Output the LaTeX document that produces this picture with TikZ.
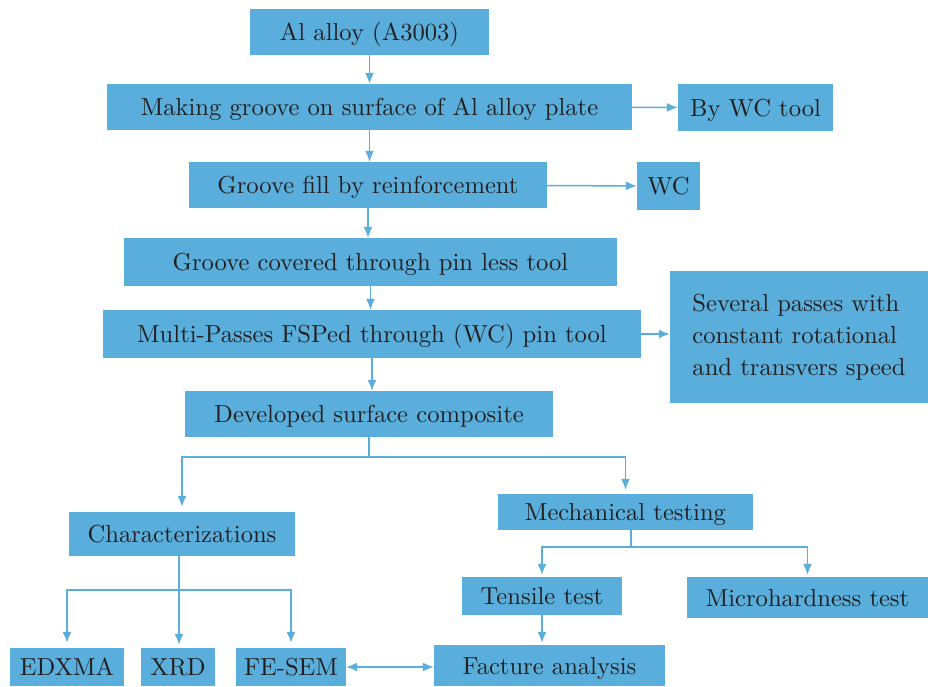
\documentclass[tikz,border=0pt]{standalone}
\usepackage{fontspec}
\newfontfamily\boxfont{lmroman10-regular.otf}
\usetikzlibrary{arrows.meta,positioning,calc}
\definecolor{boxblue}{HTML}{5AAEDB}
\definecolor{inkgray}{HTML}{231F20}
\tikzset{
  boxbase/.style={fill=boxblue,text=inkgray,inner sep=0pt,font=\boxfont\fontsize{24.6}{32}\selectfont},
  box/.style={boxbase,text height=18.5pt,text depth=1.2pt},
  flow/.style={draw=boxblue,line width=1.5pt,-{Latex[length=11pt,width=9pt]}},
  twoway/.style={draw=boxblue,line width=1.5pt,{Latex[length=11pt,width=9pt]}-{Latex[length=11pt,width=9pt]}},
  plain/.style={draw=boxblue,line width=1.5pt}
}

\begin{document}
\begin{tikzpicture}[x=1pt,y=-1pt]
      \useasboundingbox (0,0) rectangle (928,686);

      \node[box,minimum width=239pt,minimum height=46pt] (alloy) at (369.5,32) {Al alloy (A3003)};
      \node[box,minimum width=525pt,minimum height=46pt] (groove) at (369.5,107) {Making groove on surface of Al alloy plate};
      \node[box,minimum width=155pt,minimum height=47pt] (wctool) at (755.5,107.5) {By WC tool};
      \node[box,minimum width=358pt,minimum height=46pt] (fill) at (368,185) {Groove fill by reinforcement};
      \node[box,minimum width=63pt,minimum height=48pt] (wc) at (668.5,186) {WC};
      \node[box,minimum width=493pt,minimum height=48pt] (cover) at (370.5,262) {Groove covered through pin less tool};
      \node[box,minimum width=538pt,minimum height=48pt] (multi) at (372,334) {Multi-Passes FSPed through (WC) pin tool};
      \node[boxbase,minimum width=258pt,minimum height=132pt,align=left] (passes) at (799,337) {Several passes with\\constant rotational\\and transvers speed};
      \node[box,minimum width=368pt,minimum height=46pt] (dev) at (369,414) {Developed surface composite};

      \node[box,minimum width=226pt,minimum height=44pt] (char) at (182,534) {Characterizations};
      \node[box,minimum width=255pt,minimum height=36pt] (mech) at (625.5,512) {Mechanical testing};
      \node[box,minimum width=160pt,minimum height=38pt] (tensile) at (542,596) {Tensile test};
      \node[box,minimum width=241pt,minimum height=41pt] (micro) at (807.5,597.5) {Microhardness test};

      \node[box,minimum width=114pt,minimum height=38pt] (edx) at (67,667) {EDXMA};
      \node[box,minimum width=74pt,minimum height=38pt] (xrd) at (178,667) {XRD};
      \node[box,minimum width=110pt,minimum height=38pt] (fesem) at (291,667) {FE-SEM};
      \node[box,minimum width=231pt,minimum height=41pt] (fact) at (549.5,665.5) {Facture analysis};

      \draw[flow] (alloy)--(alloy |- groove.north);
      \draw[flow] (groove)--(wctool);
      \draw[flow] (groove)--(groove |- fill.north);
      \draw[flow] (fill)--(wc);
      \draw[flow] (fill)--(fill |- cover.north);
      \draw[flow] (cover)--(cover |- multi.north);
      \draw[flow] (multi)--(multi -| passes.west);
      \draw[flow] (multi)--(multi |- dev.north);

      \coordinate (devjoin) at (369,457);
      \draw[plain] (dev.south)--(devjoin);
      \draw[flow,shorten >=5pt] (devjoin) -| (char.north);
      \draw[flow,shorten >=4pt] (devjoin) -| (mech.north);

      \coordinate (mechjoin) at (631,547);
      \draw[plain] (mech.south -| mechjoin)--(mechjoin);
      \draw[flow,shorten >=2pt] (mechjoin) -| (tensile.north);
      \draw[flow,shorten >=2pt] (mechjoin) -| (micro.north);

      \coordinate (charjoin) at (179,590);
      \draw[flow,shorten >=3pt] (char.south -| charjoin)--(charjoin |- xrd.north);
      \draw[flow,shorten >=5pt] (charjoin) -| (edx.north);
      \draw[flow,shorten >=5pt] (charjoin) -| (fesem.north);

      \draw[flow,shorten >=2pt] (tensile)--(tensile |- fact.north);
      \draw[twoway] (fesem.east)--(fesem.east -| fact.west);
\end{tikzpicture}
\end{document}
